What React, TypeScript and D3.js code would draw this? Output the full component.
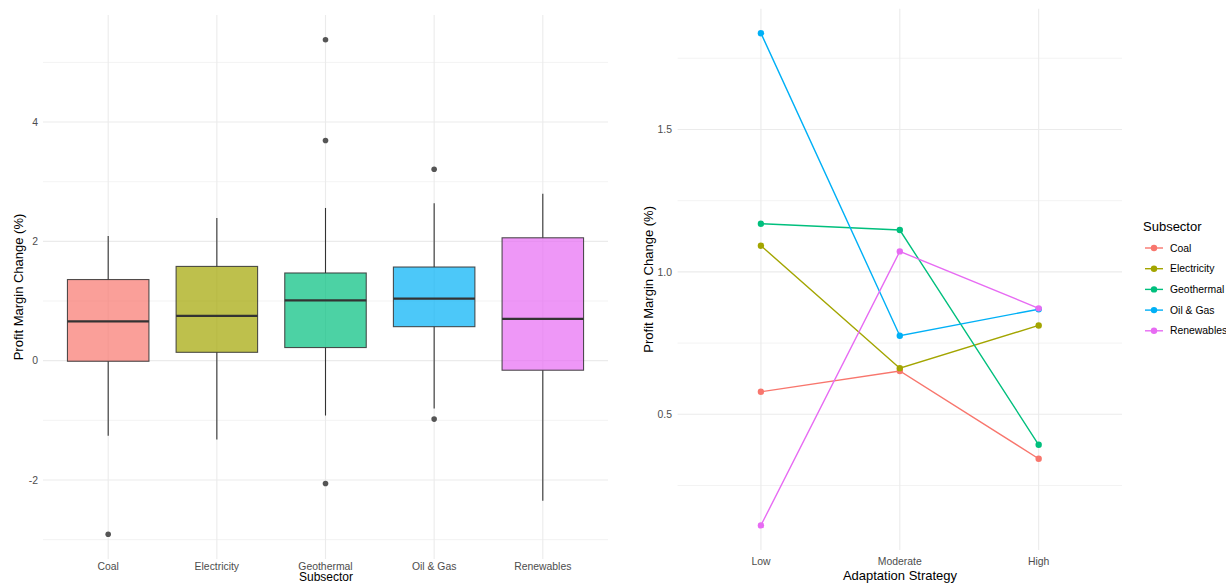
import React from "react";
import * as d3 from "d3";

const subsectors = ["Coal", "Electricity", "Geothermal", "Oil & Gas", "Renewables"];
const colors = ["#F8766D", "#A3A500", "#00BF7D", "#00B0F6", "#E76BF3"];
const whiskerLow = [-1.26, -1.32, -0.92, -0.8, -2.35];
const q1 = [-0.01, 0.14, 0.22, 0.57, -0.16];
const median = [0.66, 0.75, 1.01, 1.04, 0.7];
const q3 = [1.36, 1.58, 1.47, 1.57, 2.06];
const whiskerHigh = [2.09, 2.39, 2.56, 2.64, 2.8];
const outliers = [[-2.91], [], [5.38, 3.69, -2.06], [3.21, -0.98], []];
const leftYTicks = [-2, 0, 2, 4];
const leftYMinor = [-3, -1, 1, 3, 5];

const strategies = ["Low", "Moderate", "High"];
const coalLine = [0.579, 0.652, 0.344];
const electricityLine = [1.092, 0.662, 0.812];
const geothermalLine = [1.169, 1.147, 0.393];
const oilGasLine = [1.838, 0.776, 0.869];
const renewablesLine = [0.11, 1.072, 0.872];
const rightYTicks = [0.5, 1.0, 1.5];
const rightYMinor = [0.25, 0.75, 1.25, 1.75];

const FONT = "'Liberation Sans', Arial, sans-serif";
const TICK = "#4D4D4D";
const GRID = "#EBEBEB";

export default function App() {
  const lines = [coalLine, electricityLine, geothermalLine, oilGasLine, renewablesLine];

  // Left panel scales
  const lx = d3.scalePoint<string>().domain(subsectors).range([43, 608]).padding(0.6);
  const ly = d3.scaleLinear().domain([-3.325, 5.795]).range([559, 15]);
  const boxW = lx.step() * 0.75;

  // Right panel scales
  const rx = d3.scalePoint<string>().domain(strategies).range([677.6, 1122]).padding(0.6);
  const ry = d3.scaleLinear().domain([0.0236, 1.924]).range([550, 8.7]);
  const lineGen = d3
    .line<number>()
    .x((_, i) => rx(strategies[i]) as number)
    .y((d) => ry(d));

  return (
    <svg
      width={1226}
      height={584}
      style={{ position: "absolute", left: 0, top: 0, background: "#fff" }}
      fontFamily={FONT}
    >
      <rect width={1226} height={584} fill="#fff" />
      {/* LEFT PANEL */}
      <g>
        {leftYMinor.map((t) => (
          <line key={"lm" + t} x1={43} x2={608} y1={ly(t)} y2={ly(t)} stroke={GRID} strokeWidth={0.6} />
        ))}
        {leftYTicks.map((t) => (
          <line key={"lM" + t} x1={43} x2={608} y1={ly(t)} y2={ly(t)} stroke={GRID} strokeWidth={1.1} />
        ))}
        {subsectors.map((s) => (
          <line key={"lv" + s} x1={lx(s)} x2={lx(s)} y1={15} y2={559} stroke={GRID} strokeWidth={1.1} />
        ))}
        {subsectors.map((s, i) => {
          const cx = lx(s) as number;
          return (
            <g key={"box" + s}>
              <line x1={cx} x2={cx} y1={ly(whiskerHigh[i])} y2={ly(q3[i])} stroke="#333" strokeWidth={1.1} />
              <line x1={cx} x2={cx} y1={ly(q1[i])} y2={ly(whiskerLow[i])} stroke="#333" strokeWidth={1.1} />
              <rect
                x={cx - boxW / 2}
                y={ly(q3[i])}
                width={boxW}
                height={ly(q1[i]) - ly(q3[i])}
                fill={colors[i]}
                fillOpacity={0.7}
                stroke="#333"
                strokeOpacity={0.85}
                strokeWidth={1.1}
              />
              <line
                x1={cx - boxW / 2}
                x2={cx + boxW / 2}
                y1={ly(median[i])}
                y2={ly(median[i])}
                stroke="#333"
                strokeWidth={2.3}
              />
              {outliers[i].map((o, j) => (
                <circle key={j} cx={cx} cy={ly(o)} r={2.8} fill="#555" />
              ))}
            </g>
          );
        })}
        {leftYTicks.map((t) => (
          <text key={"lt" + t} x={38} y={ly(t)} dy="0.35em" textAnchor="end" fontSize={10.4} fill={TICK}>
            {t}
          </text>
        ))}
        {subsectors.map((s) => (
          <text key={"lx" + s} x={lx(s)} y={566} dy="0.35em" textAnchor="middle" fontSize={10.4} fill={TICK}>
            {s}
          </text>
        ))}
        <text x={326} y={580.5} textAnchor="middle" fontSize={12} fill="#000">
          Subsector
        </text>
        <text
          transform={`translate(18,${(15 + 559) / 2}) rotate(-90)`}
          dy="0.35em"
          textAnchor="middle"
          fontSize={13}
          fill="#000"
        >
          Profit Margin Change (%)
        </text>
      </g>

      {/* RIGHT PANEL */}
      <g>
        {rightYMinor.map((t) => (
          <line key={"rm" + t} x1={677.6} x2={1122} y1={ry(t)} y2={ry(t)} stroke={GRID} strokeWidth={0.6} />
        ))}
        {rightYTicks.map((t) => (
          <line key={"rM" + t} x1={677.6} x2={1122} y1={ry(t)} y2={ry(t)} stroke={GRID} strokeWidth={1.1} />
        ))}
        {strategies.map((s) => (
          <line key={"rv" + s} x1={rx(s)} x2={rx(s)} y1={8.7} y2={550} stroke={GRID} strokeWidth={1.1} />
        ))}
        {lines.map((vals, i) => (
          <g key={"ln" + i}>
            <path d={lineGen(vals) as string} fill="none" stroke={colors[i]} strokeWidth={1.4} />
            {vals.map((v, j) => (
              <circle key={j} cx={rx(strategies[j])} cy={ry(v)} r={3.2} fill={colors[i]} />
            ))}
          </g>
        ))}
        {rightYTicks.map((t) => (
          <text key={"rt" + t} x={672} y={ry(t)} dy="0.35em" textAnchor="end" fontSize={10.4} fill={TICK}>
            {d3.format(".1f")(t)}
          </text>
        ))}
        {strategies.map((s) => (
          <text key={"rx" + s} x={rx(s)} y={561} dy="0.35em" textAnchor="middle" fontSize={10.4} fill={TICK}>
            {s}
          </text>
        ))}
        <text x={900} y={575} dy="0.35em" textAnchor="middle" fontSize={13} fill="#000">
          Adaptation Strategy
        </text>
        <text
          transform={`translate(648,${(8.7 + 550) / 2}) rotate(-90)`}
          dy="0.35em"
          textAnchor="middle"
          fontSize={13}
          fill="#000"
        >
          Profit Margin Change (%)
        </text>

        {/* Legend */}
        <text x={1143} y={226} dy="0.35em" fontSize={13} fill="#000">
          Subsector
        </text>
        {subsectors.map((s, i) => {
          const y = 248 + i * 20.7;
          return (
            <g key={"lg" + s}>
              <line x1={1145} x2={1163} y1={y} y2={y} stroke={colors[i]} strokeWidth={1.4} />
              <circle cx={1154} cy={y} r={3.2} fill={colors[i]} />
              <text x={1170} y={y} dy="0.35em" fontSize={10.4} fill="#000">
                {s}
              </text>
            </g>
          );
        })}
      </g>
    </svg>
  );
}
